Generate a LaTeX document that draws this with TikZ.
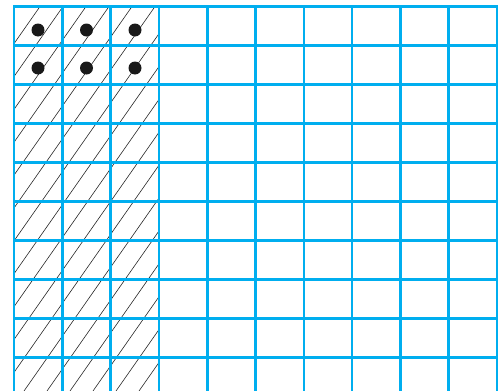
\documentclass[tikz,border=0pt]{standalone}
\usepackage{tikz}
\definecolor{gridblue}{RGB}{0,174,239}
\tikzset{
	dot/.style={circle, fill=black!90, inner sep=0pt, minimum size=13pt}, % the filled marks in the top cells
	gridline/.style={gridblue, line width=2.6pt, line cap=rect},
	hatch/.style={black!85, line width=0.6pt}
}
\begin{document}
\begin{tikzpicture}[x=1pt,y=-1pt]
	\useasboundingbox (0,0) rectangle (499,391);
	\clip (0,0) rectangle (499,391);
	% hatching of the first three columns
	\begin{scope}
		\clip (14,6.5) rectangle (159,391);
		\foreach \k in {-8,...,10}
			\draw[hatch] ({-45+23*\k},391) -- ({224+23*\k},6.5);
	\end{scope}
	% grid
	\foreach \i in {0,...,10}
		\draw[gridline] ({14+48.3*\i},6.5) -- ({14+48.3*\i},395);
	\foreach \j in {0,...,9}
		\draw[gridline] (14,{6.5+39*\j}) -- (497,{6.5+39*\j});
	% dots
	\foreach \c/\x in {a/38,b/86.5,c/135}
		\foreach \r/\y in {1/30,2/68}
			\node[dot] (dot\c\r) at (\x,\y) {};
\end{tikzpicture}
\end{document}
